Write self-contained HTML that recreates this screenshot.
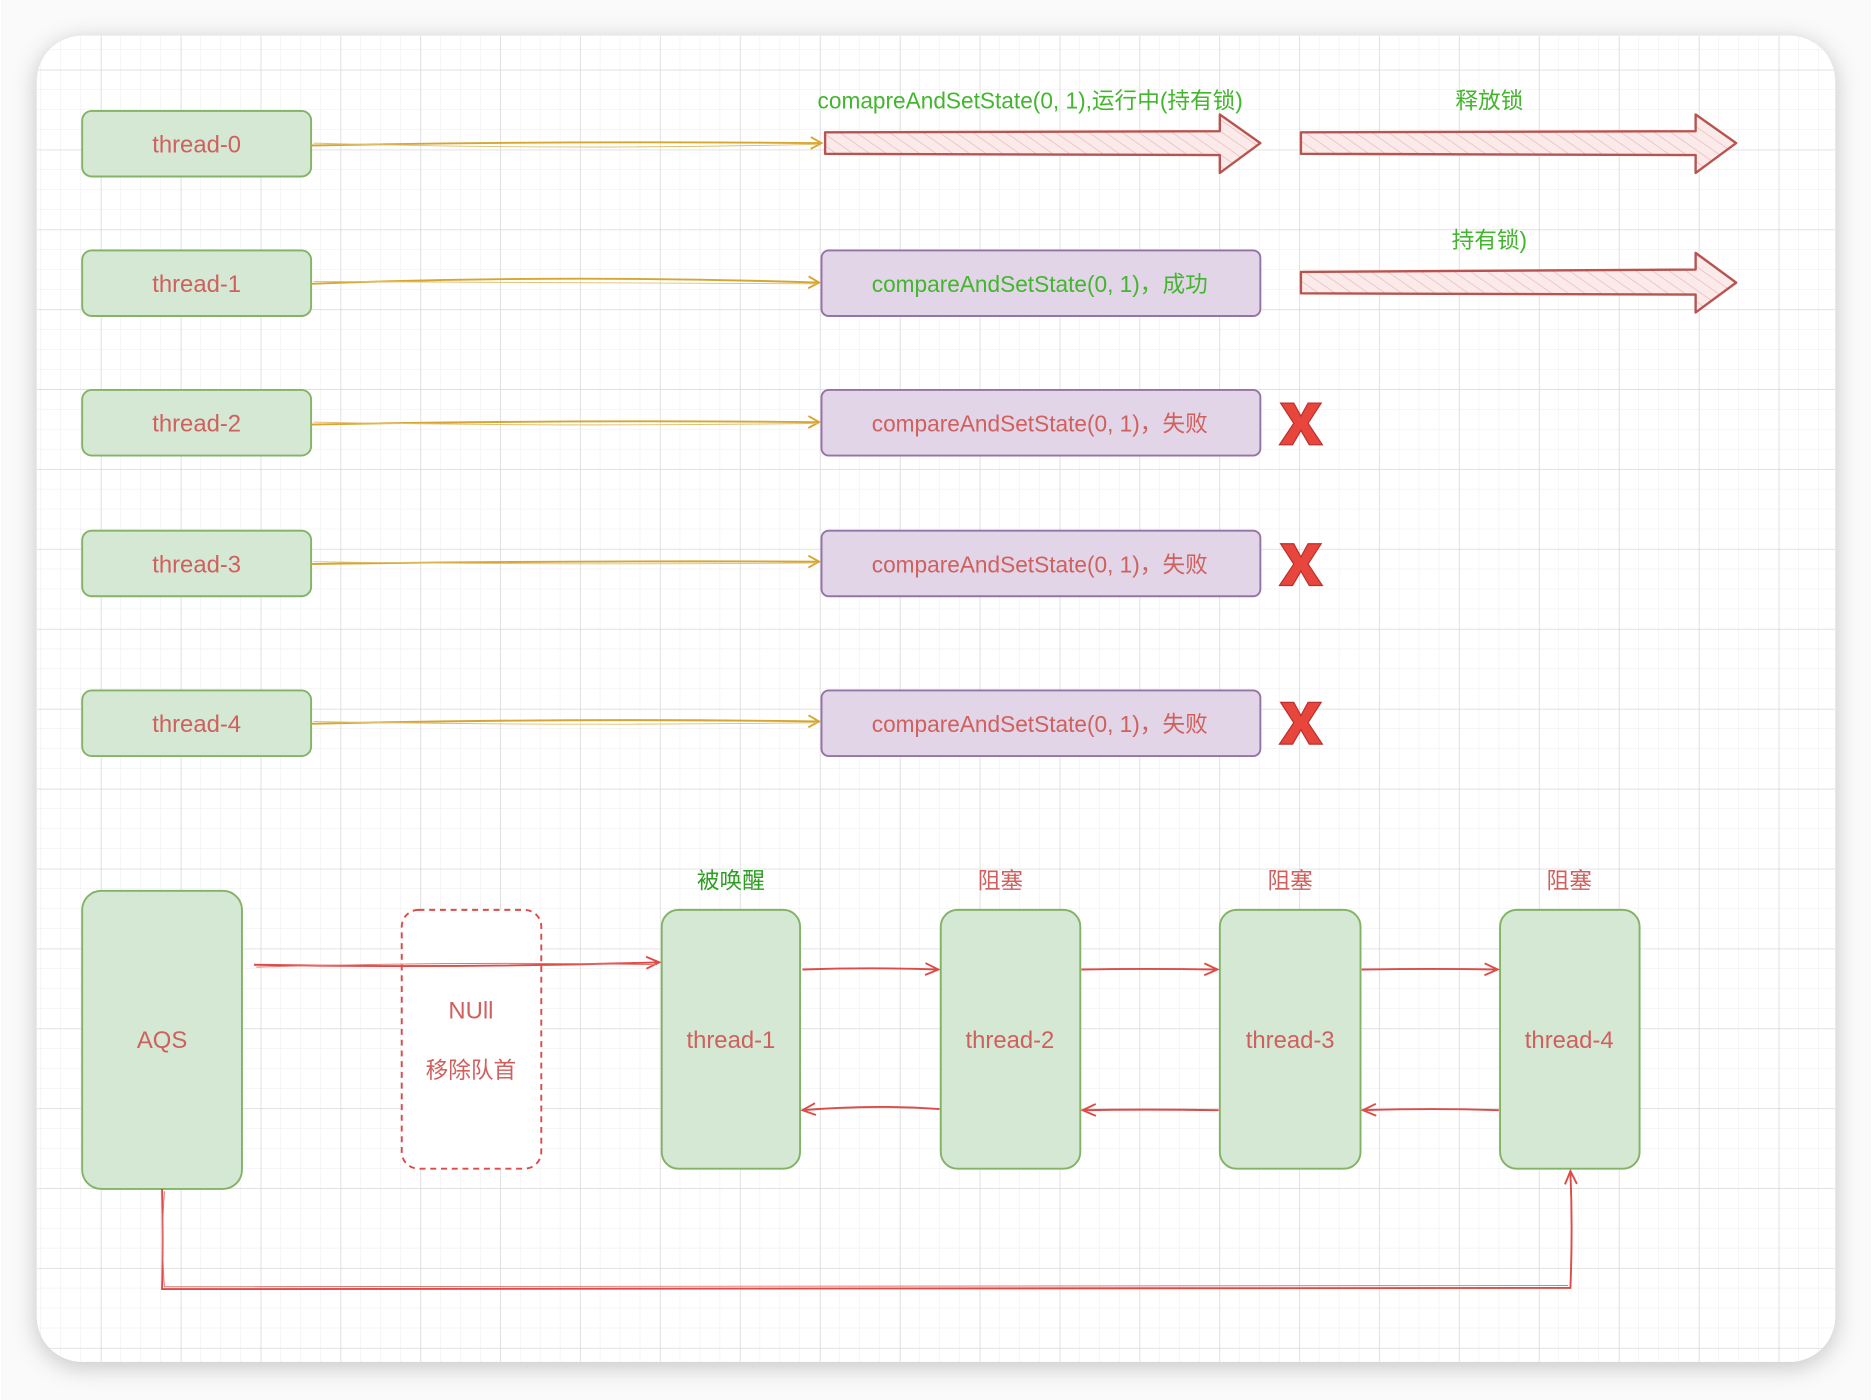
<!DOCTYPE html>
<html><head><meta charset="utf-8">
<style>
html,body{margin:0;padding:0;background:#fff;}
svg{display:block;}
text{font-family:"Liberation Sans","Noto Sans CJK SC",sans-serif;}
</style></head>
<body>
<svg width="1872" height="1400" viewBox="0 0 1568 1174" xmlns="http://www.w3.org/2000/svg">
<defs>
<pattern id="minor" x="0" y="8.35" width="16.75" height="16.75" patternUnits="userSpaceOnUse">
<path d="M16.75 0V16.75M0 16.75H16.75" stroke="#ececec" stroke-width="0.8" fill="none"/>
</pattern>
<pattern id="major" x="16.8" y="58.6" width="67" height="67" patternUnits="userSpaceOnUse">
<path d="M0 0V67M0 0H67" stroke="#d4d4d4" stroke-width="0.9" fill="none"/>
</pattern>
<pattern id="hatch" width="8" height="8" patternUnits="userSpaceOnUse" patternTransform="rotate(-55)">
<rect width="8" height="8" fill="#fbeaea"/>
<path d="M0 0V8" stroke="#eab0ae" stroke-width="1"/>
</pattern>
<filter id="sh" x="-5%" y="-5%" width="110%" height="110%">
<feDropShadow dx="0" dy="4" stdDeviation="10" flood-color="#000" flood-opacity="0.22"/>
</filter>
<clipPath id="card"><rect x="30" y="30" width="1508" height="1112" rx="38"/></clipPath>
<marker id="ay" markerWidth="12" markerHeight="12" refX="10" refY="6" orient="auto" markerUnits="userSpaceOnUse">
<path d="M1 1L10 6L1 11" fill="none" stroke="#d6a630" stroke-width="1.6"/>
</marker>
<marker id="ar" markerWidth="14" markerHeight="12" refX="12" refY="6" orient="auto" markerUnits="userSpaceOnUse">
<path d="M1 1L12 6L1 11" fill="none" stroke="#dd4b48" stroke-width="1.6"/>
</marker>
</defs>
<rect width="1568" height="1174" fill="#fafafa"/>
<rect x="30" y="30" width="1508" height="1112" rx="38" fill="#fff" filter="url(#sh)"/>
<g clip-path="url(#card)">
<rect x="30" y="30" width="1508" height="1112" fill="url(#minor)"/>
<rect x="30" y="30" width="1508" height="1112" fill="url(#major)"/>
</g>

<!-- thread boxes -->
<g fill="#d5e8d4" stroke="#82b366" stroke-width="1.6">
<rect x="68" y="93" width="192" height="55" rx="8"/>
<rect x="68" y="210" width="192" height="55" rx="8"/>
<rect x="68" y="327" width="192" height="55" rx="8"/>
<rect x="68" y="445" width="192" height="55" rx="8"/>
<rect x="68" y="579" width="192" height="55" rx="8"/>
</g>
<g fill="#d0605e" font-size="20" text-anchor="middle">
<text x="164" y="128">thread-0</text>
<text x="164" y="245">thread-1</text>
<text x="164" y="362">thread-2</text>
<text x="164" y="480">thread-3</text>
<text x="164" y="614">thread-4</text>
</g>

<!-- yellow arrows -->
<g stroke="#d6a630" stroke-width="1.6" fill="none" marker-end="url(#ay)">
<path d="M260 122Q470 118 688 120"/>
<path d="M260 238Q470 230 686 237"/>
<path d="M260 356Q470 352 686 354"/>
<path d="M260 473Q470 470 686 471"/>
<path d="M260 607Q470 602 686 605"/>
</g>
<g stroke="#e0c070" stroke-width="0.8" fill="none">
<path d="M262 120Q470 126 684 121"/>
<path d="M262 236Q470 237 684 238"/>
<path d="M262 354Q470 358 684 355"/>
<path d="M262 471Q470 474 684 472"/>
<path d="M262 605Q470 609 684 606"/>
</g>

<!-- purple boxes -->
<g fill="#e1d5e7" stroke="#9673a6" stroke-width="1.6">
<rect x="688" y="210" width="368" height="55" rx="6"/>
<rect x="688" y="327" width="368" height="55" rx="6"/>
<rect x="688" y="445" width="368" height="55" rx="6"/>
<rect x="688" y="579" width="368" height="55" rx="6"/>
</g>
<g font-size="19" text-anchor="middle">
<text x="871" y="245" fill="#44b52e">compareAndSetState(0, 1)，成功</text>
<text x="871" y="362" fill="#d0605e">compareAndSetState(0, 1)，失败</text>
<text x="871" y="480" fill="#d0605e">compareAndSetState(0, 1)，失败</text>
<text x="871" y="614" fill="#d0605e">compareAndSetState(0, 1)，失败</text>
</g>

<!-- X marks -->
<g fill="#e8453c" stroke="#b8312c" stroke-width="1">
<path id="xm" d="M1073 338H1084L1090 349L1096 338H1107L1096 355L1108 373H1097L1090 361L1083 373H1072L1084 355Z"/>
<path d="M1073 456H1084L1090 467L1096 456H1107L1096 473L1108 491H1097L1090 479L1083 491H1072L1084 473Z"/>
<path d="M1073 589H1084L1090 600L1096 589H1107L1096 606L1108 624H1097L1090 612L1083 624H1072L1084 606Z"/>
</g>

<!-- labels -->
<g fill="#44b52e" font-size="19" text-anchor="middle">
<text x="863" y="91">comapreAndSetState(0, 1),运行中(持有锁)</text>
<text x="1248" y="91">释放锁</text>
<text x="1248" y="208">持有锁)</text>
</g>

<!-- big hatched arrows -->
<g fill="url(#hatch)" stroke="#b85450" stroke-width="2" stroke-linejoin="round">
<path d="M691 111L1022 110L1022 96L1056 120L1022 145L1022 130L691 129Z"/>
<path d="M1090 111L1421 110L1421 96L1455 120L1421 145L1421 130L1090 129Z"/>
<path d="M1090 228L1421 226L1421 212L1455 237L1421 262L1421 247L1090 246Z"/>
</g>

<!-- bottom -->
<rect x="68" y="747" width="134" height="250" rx="16" fill="#d5e8d4" stroke="#82b366" stroke-width="1.6"/>
<text x="135" y="879" fill="#d0605e" font-size="20" text-anchor="middle">AQS</text>
<rect x="336" y="763" width="117" height="217" rx="14" fill="#fff" stroke="#dd4b48" stroke-width="1.6" stroke-dasharray="5 4"/>
<text x="394" y="854" fill="#d0605e" font-size="20" text-anchor="middle">NUll</text>
<text x="394" y="904" fill="#d0605e" font-size="19" text-anchor="middle">移除队首</text>
<g fill="#d5e8d4" stroke="#82b366" stroke-width="1.6">
<rect x="554" y="763" width="116" height="217" rx="14"/>
<rect x="788" y="763" width="117" height="217" rx="14"/>
<rect x="1022" y="763" width="118" height="217" rx="14"/>
<rect x="1257" y="763" width="117" height="217" rx="14"/>
</g>
<g fill="#d0605e" font-size="20" text-anchor="middle">
<text x="612" y="879">thread-1</text>
<text x="846" y="879">thread-2</text>
<text x="1081" y="879">thread-3</text>
<text x="1315" y="879">thread-4</text>
</g>
<g font-size="19" text-anchor="middle">
<text x="612" y="745" fill="#2e9e22">被唤醒</text>
<text x="838" y="745" fill="#d0605e">阻塞</text>
<text x="1081" y="745" fill="#d0605e">阻塞</text>
<text x="1315" y="745" fill="#d0605e">阻塞</text>
</g>
<g stroke="#dd4b48" stroke-width="1.6" fill="none" marker-end="url(#ar)">
<path d="M212 809Q380 812 552 807"/>
<path d="M672 813Q730 811 786 813"/>
<path d="M906 813Q960 812 1020 813"/>
<path d="M1141 813Q1200 812 1255 813"/>
<path d="M787 930Q730 926 672 931"/>
<path d="M1021 931Q960 930 907 931"/>
<path d="M1256 931Q1200 929 1142 931"/>
<path d="M135 997Q136 1040 135 1081L1316 1080Q1318 1030 1316 982"/>
</g>
<g stroke="#e57370" stroke-width="0.8" fill="none">
<path d="M214 811Q380 806 550 809"/>
<path d="M137 999Q134 1040 137 1079L1314 1078"/>
</g>
</svg>
</body></html>
